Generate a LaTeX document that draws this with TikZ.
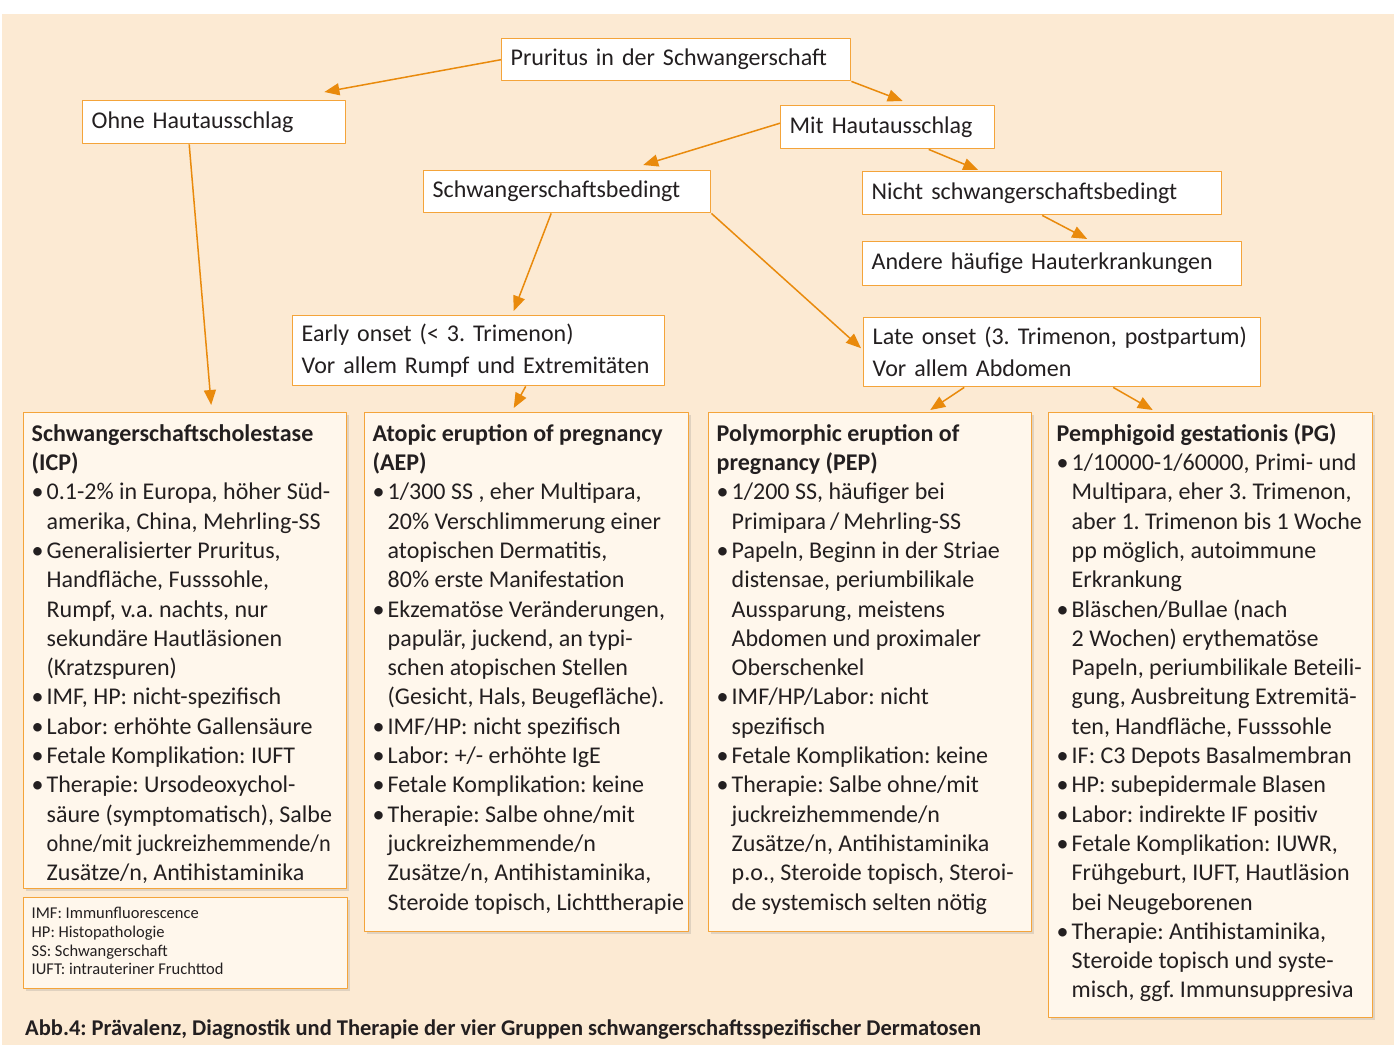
\documentclass[tikz,border=0pt]{standalone}
\usepackage{fontspec}
\usepackage{graphicx}
\setmainfont{Carlito}
\usetikzlibrary{arrows.meta,shadows}
\definecolor{peach}{HTML}{FCEAD3}
\definecolor{cardfill}{HTML}{FFF7EC}
\definecolor{rim}{HTML}{F4A43A}
\definecolor{arrowc}{HTML}{E98A0C}
\definecolor{ink}{HTML}{231F20}
\newcommand{\bl}{\makebox[15pt][l]{\textbullet}}
\newcommand{\hg}{\hspace*{15pt}}
\frenchspacing

\begin{document}
\begin{tikzpicture}[x=1pt,y=-1pt,line join=round,
  flow/.style={draw=rim,line width=1.4pt,fill=white,anchor=north west,inner xsep=9pt,inner ysep=0pt,
    align=left,text=ink,font=\fontsize{24}{32}\selectfont},
  card/.style={draw=rim,line width=1.4pt,fill=cardfill,anchor=north west,inner sep=8pt,text=ink,
    font=\fontsize{24}{29.3}\selectfont,drop shadow={shadow xshift=2.5pt,shadow yshift=-2.5pt,opacity=0.22}},
  link/.style={draw=arrowc,line width=1.5pt,-{Triangle[length=15pt,width=12pt]}}]
  \useasboundingbox (0,0) rectangle (1394,1045);
  \fill[peach] (2,14) rectangle (1394,1045);
  % Entscheidungsbaum oben
  \node[flow,text width=331pt,minimum height=42pt] (pruritus) at (501,38) {Pruritus in der Schwangerschaft};
  \node[flow,text width=245pt,minimum height=43pt] (ohne) at (82,100) {Ohne Hautausschlag};
  \node[flow,text width=196pt,minimum height=43pt] (mit) at (780,105) {Mit Hautausschlag};
  \node[flow,text width=269pt,minimum height=42pt] (schw) at (423,170) {Schwangerschaftsbedingt};
  \node[flow,text width=341pt,minimum height=43pt] (nicht) at (862,171) {Nicht schwangerschaftsbedingt};
  \node[flow,text width=361pt,minimum height=44pt] (andere) at (862,241) {Andere häufige Hauterkrankungen};
  \node[flow,text width=354pt,minimum height=70pt] (early) at (292,315) {Early onset (< 3. Trimenon)\\Vor allem Rumpf und Extremitäten};
  \node[flow,text width=379pt,minimum height=69pt] (late) at (863,317) {Late onset (3. Trimenon, postpartum)\\Vor allem Abdomen};
  % vier Gruppen
  \node[card] (icp) at (23,412) {\parbox[c][460pt][t]{307pt}{\begin{tabular}{@{}l@{}}
    \textbf{Schwangerschaftscholestase}\\
    \textbf{(ICP)}\\
    \bl 0.1-2\% in Europa, höher Süd-\\
    \hg amerika, China, Mehrling-SS\\
    \bl Generalisierter Pruritus,\\
    \hg Handfläche, Fusssohle,\\
    \hg Rumpf, v.a. nachts, nur\\
    \hg sekundäre Hautläsionen\\
    \hg (Kratzspuren)\\
    \bl IMF, HP: nicht-spezifisch\\
    \bl Labor: erhöhte Gallensäure\\
    \bl Fetale Komplikation: IUFT\\
    \bl Therapie: Ursodeoxychol-\\
    \hg säure (symptomatisch), Salbe\\
    \hg \scalebox{0.93}[1]{ohne/mit juckreizhemmende/n}\\
    \hg Zusätze/n, Antihistaminika
  \end{tabular}}};
  \node[card] (aep) at (364,412) {\parbox[c][503pt][t]{308pt}{\begin{tabular}{@{}l@{}}
    \textbf{Atopic eruption of pregnancy}\\
    \textbf{(AEP)}\\
    \bl 1/300 SS , eher Multipara,\\
    \hg 20\% Verschlimmerung einer\\
    \hg atopischen Dermatitis,\\
    \hg 80\% erste Manifestation\\
    \bl Ekzematöse Veränderungen,\\
    \hg papulär, juckend, an typi-\\
    \hg schen atopischen Stellen\\
    \hg (Gesicht, Hals, Beugefläche).\\
    \bl IMF/HP: nicht spezifisch\\
    \bl Labor: +/- erhöhte IgE\\
    \bl Fetale Komplikation: keine\\
    \bl Therapie: Salbe ohne/mit\\
    \hg juckreizhemmende/n\\
    \hg Zusätze/n, Antihistaminika,\\
    \hg Steroide topisch, Lichttherapie
  \end{tabular}}};
  \node[card] (pep) at (708,412) {\parbox[c][503pt][t]{307pt}{\begin{tabular}{@{}l@{}}
    \textbf{Polymorphic eruption of}\\
    \textbf{pregnancy (PEP)}\\
    \bl 1/200 SS, häufiger bei\\
    \hg Primipara\,/\,Mehrling-SS\\
    \bl Papeln, Beginn in der Striae\\
    \hg distensae, periumbilikale\\
    \hg Aussparung, meistens\\
    \hg Abdomen und proximaler\\
    \hg Oberschenkel\\
    \bl IMF/HP/Labor: nicht\\
    \hg spezifisch\\
    \bl Fetale Komplikation: keine\\
    \bl Therapie: Salbe ohne/mit\\
    \hg juckreizhemmende/n\\
    \hg Zusätze/n, Antihistaminika\\
    \hg p.o., Steroide topisch, Steroi-\\
    \hg de systemisch selten nötig
  \end{tabular}}};
  \node[card] (pg) at (1048,412) {\parbox[c][589pt][t]{308pt}{\begin{tabular}{@{}l@{}}
    \textbf{Pemphigoid gestationis (PG)}\\
    \bl 1/10000-1/60000, Primi- und\\
    \hg Multipara, eher 3. Trimenon,\\
    \hg aber 1. Trimenon bis 1 Woche\\
    \hg pp möglich, autoimmune\\
    \hg Erkrankung\\
    \bl Bläschen/Bullae (nach\\
    \hg 2 Wochen) erythematöse\\
    \hg Papeln, periumbilikale Beteili-\\
    \hg gung, Ausbreitung Extremitä-\\
    \hg ten, Handfläche, Fusssohle\\
    \bl IF: C3 Depots Basalmembran\\
    \bl HP: subepidermale Blasen\\
    \bl Labor: indirekte IF positiv\\
    \bl Fetale Komplikation: IUWR,\\
    \hg Frühgeburt, IUFT, Hautläsion\\
    \hg bei Neugeborenen\\
    \bl Therapie: Antihistaminika,\\
    \hg Steroide topisch und syste-\\
    \hg misch, ggf. Immunsuppresiva
  \end{tabular}}};
  \node[card,font=\fontsize{16.5}{18.7}\selectfont] (legend) at (23,897) {\parbox[c][75pt][t]{308pt}{\begin{tabular}{@{}l@{}}
    IMF: Immunfluorescence\\
    HP: Histopathologie\\
    SS: Schwangerschaft\\
    IUFT: intrauteriner Fruchttod
  \end{tabular}}};
  \node[anchor=base west,inner sep=0pt,text=ink,font=\fontsize{22.5}{24}\selectfont\bfseries] (caption) at (25,1035)
    {Abb.4: Prävalenz, Diagnostik und Therapie der vier Gruppen schwangerschaftsspezifischer Dermatosen};
  % Pfeile
  \draw[link] (pruritus.west) -- ([xshift=-22pt,yshift=8pt]ohne.north east);
  \draw[link] (pruritus.south east) -- ([xshift=15pt,yshift=4pt]mit.north);
  \draw[link] ([yshift=4pt]mit.west) -- ([xshift=76pt,yshift=5pt]schw.north);
  \draw[link] ([xshift=41pt]mit.south) -- ([xshift=-64pt,yshift=1pt]nicht.north);
  \draw[link] (nicht.south) -- ([xshift=35pt,yshift=2pt]andere.north);
  \draw[link] ([xshift=-16pt]schw.south) -- ([xshift=35pt,yshift=4pt]early.north);
  \draw[link] (schw.south east) -- ([xshift=-2pt,yshift=4pt]late.west);
  \draw[link] ([xshift=-25pt]ohne.south) -- ([xshift=26pt,yshift=7pt]icp.north);
  \draw[link] ([xshift=47pt]early.south) -- ([xshift=-13pt,yshift=4pt]aep.north);
  \draw[link] ([xshift=-98pt]late.south) -- ([xshift=60pt,yshift=2pt]pep.north);
  \draw[link] ([xshift=51pt]late.south) -- ([xshift=-58pt,yshift=2pt]pg.north);
\end{tikzpicture}
\end{document}
